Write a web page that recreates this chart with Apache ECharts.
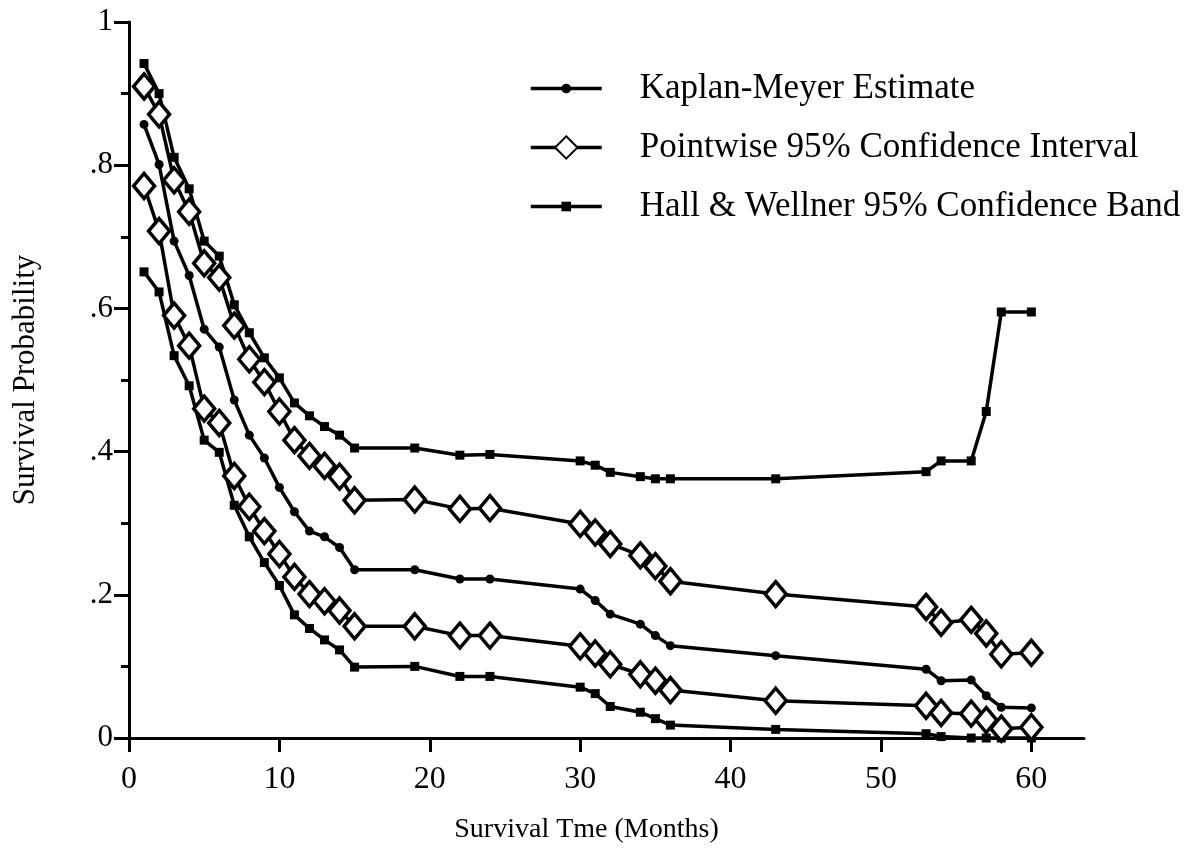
<!DOCTYPE html>
<html>
<head>
<meta charset="utf-8">
<script src="https://cdn.jsdelivr.net/npm/echarts@6/dist/echarts.min.js"></script>
<style>
html,body{margin:0;padding:0;background:#fff;}
#chart{width:1195px;height:849px;}
</style>
</head>
<body>
<div id="chart"></div>
<script>
const months = [1,2,3,4,5,6,7,8,9,10,11,12,13,14,15,19,22,24,30,31,32,34,35,36,43,53,54,56,57,58,60];
const kaplanMeyer = [.857,.801,.694,.646,.571,.546,.472,.423,.391,.350,.316,.289,.281,.266,.235,.235,.222,.222,.208,.192,.173,.159,.143,.129,.115,.096,.080,.081,.059,.043,.042];
const pointwiseUpper = [.910,.871,.779,.735,.663,.643,.576,.529,.497,.456,.416,.394,.380,.365,.332,.333,.320,.321,.299,.287,.271,.255,.240,.219,.201,.183,.161,.165,.146,.117,.119];
const pointwiseLower = [.771,.708,.590,.548,.460,.440,.366,.323,.289,.257,.225,.201,.191,.178,.156,.156,.143,.143,.128,.118,.103,.089,.080,.067,.052,.045,.035,.034,.025,.013,.015];
const hallUpper = [.942,.900,.811,.767,.694,.673,.605,.566,.531,.503,.468,.450,.435,.423,.405,.405,.395,.396,.387,.381,.371,.365,.362,.362,.362,.372,.387,.387,.456,.595,.595];
const hallLower = [.651,.623,.534,.492,.416,.399,.325,.281,.245,.213,.172,.153,.137,.123,.099,.100,.086,.086,.071,.062,.044,.036,.027,.018,.012,.006,.002,0,0,0,0];
const xTickValues = [0,10,20,30,40,50,60];
const seriesNames = ['Kaplan-Meyer Estimate','Pointwise 95% Confidence Interval','Hall & Wellner 95% Confidence Band'];
const xAxisTitle = 'Survival Tme (Months)';
const yAxisTitle = 'Survival Probability';

const pair = arr => months.map((m,i) => [m, arr[i]]);
const font = 'Liberation Serif';
const lineBase = {type:'line', lineStyle:{color:'#000', width:3.5}, showAllSymbol:true, animation:false, z:3};

function legendAt(name, top, iconH){
  return {
    orient:'vertical', left:524, top:top,
    itemWidth:71, itemHeight:iconH, itemGap:0,
    data:[name],
    lineStyle:{width:3.5, color:'#000'},
    textStyle:{fontFamily:font, fontSize:35, color:'#000', padding:[0,0,0,33]}
  };
}

const chart = echarts.init(document.getElementById('chart'), null, {renderer:'canvas'});
chart.setOption({
  backgroundColor:'#fff',
  animation:false,
  grid:{left:129, right:111, top:22, bottom:108, containLabel:false},
  legend:[
    legendAt(seriesNames[0], 66, 12),
    legendAt(seriesNames[1], 125, 28),
    legendAt(seriesNames[2], 184, 12)
  ],
  xAxis:{
    type:'value', min:0, max:63.5,
    name:xAxisTitle, nameLocation:'middle', nameGap:78,
    nameTextStyle:{fontFamily:font, fontSize:28, color:'#000', padding:[0,40,0,0]},
    axisLine:{show:true, lineStyle:{color:'#000', width:3}},
    axisTick:{show:true, length:14, lineStyle:{color:'#000', width:3}, customValues:xTickValues},
    axisLabel:{fontFamily:font, fontSize:32, color:'#000', margin:26, customValues:xTickValues},
    splitLine:{show:false}
  },
  yAxis:{
    type:'value', min:0, max:1, interval:0.2,
    name:yAxisTitle, nameLocation:'middle', nameGap:88, nameRotate:90,
    nameTextStyle:{fontFamily:font, fontSize:31, color:'#000'},
    axisLine:{show:true, lineStyle:{color:'#000', width:3}},
    axisTick:{show:true, length:15, lineStyle:{color:'#000', width:3}},
    minorTick:{show:true, splitNumber:2, length:8, lineStyle:{color:'#000', width:3}},
    axisLabel:{fontFamily:font, fontSize:31, color:'#000', margin:16,
      formatter:v => (v===0 ? '0' : v===1 ? '1' : v.toFixed(1).replace('0.','.'))},
    splitLine:{show:false}, minorSplitLine:{show:false}
  },
  series:[
    Object.assign({}, lineBase, {name:seriesNames[2], data:pair(hallUpper), symbol:'rect', symbolSize:9, itemStyle:{color:'#000'}}),
    Object.assign({}, lineBase, {name:seriesNames[2], data:pair(hallLower), symbol:'rect', symbolSize:9, itemStyle:{color:'#000'}}),
    Object.assign({}, lineBase, {name:seriesNames[0], data:pair(kaplanMeyer), symbol:'circle', symbolSize:9, itemStyle:{color:'#000'}}),
    Object.assign({}, lineBase, {name:seriesNames[1], data:pair(pointwiseUpper), symbol:'diamond', symbolSize:[21,25], itemStyle:{color:'#fff', borderColor:'#000', borderWidth:3.5}, z:4}),
    Object.assign({}, lineBase, {name:seriesNames[1], data:pair(pointwiseLower), symbol:'diamond', symbolSize:[21,25], itemStyle:{color:'#fff', borderColor:'#000', borderWidth:3.5}, z:4})
  ]
});
</script>
</body>
</html>
